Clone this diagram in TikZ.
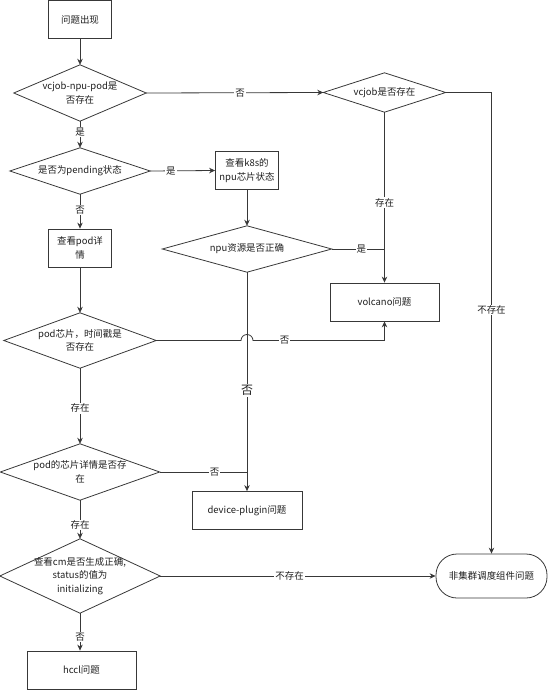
\documentclass[tikz,border=0pt]{standalone}
\usepackage{fontspec}
\setmainfont{Noto Sans CJK SC}
\usetikzlibrary{
  arrows.meta,
  positioning,
  calc
}
\usepackage{xcolor}
\definecolor{lineGray}{rgb}{0.22,0.22,0.22}
\definecolor{textGray}{rgb}{0.12,0.12,0.12}
\newcommand{\flowFont}{\fontsize{9.5}{13.5}\selectfont}
\tikzset{
  procBox/.style={
    rectangle,
    draw=lineGray,
    line width=0.8bp,
    minimum width=63bp,
    minimum height=38bp,
    inner sep=1bp,
    align=center,
    text=textGray,
    font=\flowFont
  }
}
\tikzset{
  decision/.style={
    rectangle,
    inner sep=0pt,
    align=center,
    text=textGray,
    font=\flowFont
  }
}
\tikzset{
  terminal/.style={
    rectangle,
    draw=lineGray,
    line width=0.8bp,
    rounded corners=21bp,
    minimum width=111bp,
    minimum height=44bp,
    inner sep=1bp,
    text=textGray,
    font=\flowFont
  }
}
\tikzset{
  flow/.style={draw=lineGray, line width=0.8bp},
  lbl/.style={fill=white, inner sep=1bp, text=textGray, font=\flowFont}
}

\begin{document}
\begin{tikzpicture}[>={Stealth[length=6bp,width=5.5bp]}, x=1bp, y=-1bp]
  \useasboundingbox (0,0) rectangle (548,690);

  % main column
  \node[procBox] (start) at (80,19.5) {问题出现};
  \node[decision, minimum width=132bp, minimum height=56bp] (vnpExist) at (80,93)
    {vcjob-npu-pod是\\否存在};
  \node[decision, minimum width=140bp, minimum height=46bp] (isPending) at (80,171)
    {是否为pending状态};
  \node[procBox] (podInfo) at (80,248) {查看pod详\\情};
  \node[decision, minimum width=152bp, minimum height=55bp] (chipStamp) at (80,340.5)
    {pod芯片，时间戳是\\否存在};
  \node[decision, minimum width=159bp, minimum height=56bp] (chipInfo) at (80,472)
    {pod的芯片详情是否存\\在};
  \node[decision, minimum width=160bp, minimum height=74bp] (cmStatus) at (80,576)
    {查看cm是否生成正确,\\status的值为\\initializing};
  \node[procBox, minimum width=109bp] (hccl) at (81.5,670) {hccl问题};

  % middle and right
  \node[procBox] (k8sChip) at (247,170.5) {查看k8s的\\npu芯片状态};
  \node[decision, minimum width=169bp, minimum height=46bp] (npuOk) at (247,249)
    {npu资源是否正确};
  \node[procBox, minimum width=110bp] (devPlugin) at (247,510.5) {device-plugin问题};
  \node[decision, minimum width=122bp, minimum height=39bp] (vcjobExist) at (384.5,92.5)
    {vcjob是否存在};
  \node[procBox, minimum width=109bp] (volcano) at (384.5,302) {volcano问题};
  \node[terminal] (nonCluster) at (491.5,576) {非集群调度组件问题};

  \foreach \d in {vnpExist,isPending,chipStamp,chipInfo,cmStatus,npuOk,vcjobExist}
    \draw[flow] (\d.north) -- (\d.east) -- (\d.south) -- (\d.west) -- cycle;

  \draw[flow,->] (start.south) -- (vnpExist.north);
  \draw[flow,->] (vnpExist.south) -- node[lbl, pos=0.4] {是} (isPending.north);
  \draw[flow,->] (vnpExist.east) -- node[lbl, pos=0.53] {否} (vcjobExist.west);
  \draw[flow,->] (vcjobExist.south) -- node[lbl, pos=0.53] {存在} (volcano.north);
  \draw[flow,->] (vcjobExist.east) -| node[lbl, pos=0.736] {不存在} (nonCluster.north);
  \draw[flow,->] (isPending.east) -- node[lbl, pos=0.32] {是} (k8sChip.west);
  \draw[flow,->] (isPending.south) -- node[lbl, pos=0.46] {否} (podInfo.north);
  \draw[flow,->] (k8sChip.south) -- (npuOk.north);
  \draw[flow] (npuOk.east) -- node[lbl, pos=0.56] {是} (npuOk.east -| volcano.north);
  \draw[flow,->] (npuOk.south) -- node[lbl, pos=0.54, font=\fontsize{12}{14}\selectfont] {否}
    (devPlugin.north);
  \draw[flow,->] (podInfo.south) -- (chipStamp.north);
  \draw[flow,->] (chipStamp.east) -- ($(chipStamp.east -| npuOk.south)+(-6,0)$)
    arc[start angle=180, end angle=360, radius=6]
    -- node[lbl, pos=0.24] {否} (chipStamp.east -| volcano.south) -- (volcano.south);
  \draw[flow,->] (chipStamp.south) -- node[lbl, pos=0.53] {存在} (chipInfo.north);
  \draw[flow] (chipInfo.east) -- node[lbl, pos=0.63] {否} (chipInfo.east -| devPlugin.north);
  \draw[flow,->] (chipInfo.south) -- node[lbl, pos=0.64] {存在} (cmStatus.north);
  \draw[flow,->] (cmStatus.east) -- node[lbl, pos=0.47] {不存在} (nonCluster.west);
  \draw[flow,->] (cmStatus.south) -- node[lbl, pos=0.63] {否} (cmStatus.south |- hccl.north);
\end{tikzpicture}
\end{document}
